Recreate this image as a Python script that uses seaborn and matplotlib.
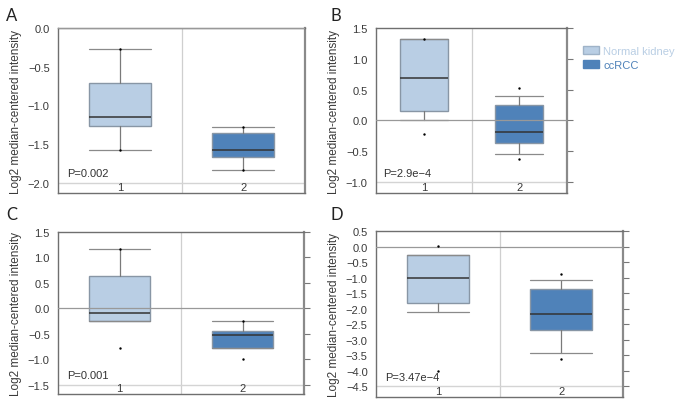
import numpy as np
import pandas as pd
import seaborn as sns
import matplotlib
matplotlib.use("Agg")
import matplotlib.pyplot as plt
from matplotlib.patches import Patch

# box stats: [group1, group2]
panels = ["A", "B", "C", "D"]
p_values = ["P=0.002", "P=2.9e\u22124", "P=0.001", "P=3.47e\u22124"]

whislo = [[-1.573, -1.836], [0.0, -0.543], [-0.249, -0.772], [-2.124, -3.42]]
q1 = [[-1.267, -1.672], [0.147, -0.364], [-0.249, -0.772], [-1.833, -2.675]]
med = [[-1.151, -1.582], [0.69, -0.196], [-0.091, -0.524], [-1.0, -2.19]]
q3 = [[-0.711, -1.358], [1.315, 0.245], [0.636, -0.445], [-0.288, -1.357]]
whishi = [[-0.276, -1.28], [1.315, 0.391], [1.16, -0.242], [-0.288, -1.087]]
dot_min = [[-1.573, -1.836], [-0.217, -0.625], [-0.766, -0.995], [-4.02, -3.636]]
dot_max = [[-0.276, -1.28], [1.326, 0.522], [1.16, -0.242], [0.025, -0.871]]

ylims = [(-2.134, 0.0), (-1.18, 1.5), (-1.677, 1.5), (-4.85, 0.5)]
yticks = [np.arange(-2.0, 0.01, 0.5), np.arange(-1.0, 1.51, 0.5),
          np.arange(-1.5, 1.51, 0.5), np.arange(-4.5, 0.51, 0.5)]

groups = ["1", "2"]
legend_labels = ["Normal kidney", "ccRCC"]
colors = ["#b9cee4", "#4f82b9"]

sns.set_style("white")
plt.rcParams["font.family"] = ["Liberation Sans", "DejaVu Sans"]

fig = plt.figure(figsize=(6.82, 4.02), dpi=100)
W, H = 682, 402
boxes_px = [(58, 29, 305, 194), (376, 29, 567, 194), (58, 233, 304, 395), (376, 232, 623, 398)]
letters_px = [(6, 16), (330, 16), (6, 215), (330, 215)]

for i, name in enumerate(panels):
    l, t, r, b = boxes_px[i]
    ax = fig.add_axes([l / W, 1 - b / H, (r - l) / W, (b - t) / H])
    stats = []
    for g in range(2):
        stats.append(dict(whislo=whislo[i][g], q1=q1[i][g], med=med[i][g],
                          q3=q3[i][g], whishi=whishi[i][g], fliers=[]))
    ax.axvline(1.5, color="#cfcfcf", lw=0.9, zorder=0)
    ax.axhline(yticks[i][0], color="#d4d4d4", lw=1.0, zorder=0)
    bp = ax.bxp(stats, positions=[1, 2], widths=0.5, capwidths=0.5,
                showfliers=False, patch_artist=True,
                boxprops=dict(edgecolor="#8896a5", linewidth=1.0),
                whiskerprops=dict(color="#7a7a7a", linewidth=0.9),
                capprops=dict(color="#8a8a8a", linewidth=0.9),
                medianprops=dict(color="#333333", linewidth=1.1))
    for patch, c in zip(bp["boxes"], colors):
        patch.set_facecolor(c)
    ax.axhline(0, color="#999999", lw=0.9, zorder=3)
    dots = pd.DataFrame({"x": [1, 2, 1, 2],
                         "y": dot_min[i] + dot_max[i]})
    sns.scatterplot(data=dots, x="x", y="y", ax=ax, color="black", s=3,
                    linewidth=0, zorder=4, legend=False)
    ax.set_xlim(0.5, 2.5)
    ax.set_ylim(*ylims[i])
    ax.set_yticks(yticks[i])
    ax.set_yticklabels([f"{v:.1f}".replace("-", "\u2212") for v in yticks[i]])
    ax.set_xticks([1, 2])
    ax.set_xticklabels(groups)
    ax.set_xlabel("")
    ax.set_ylabel("Log2 median-centered intensity", fontsize=8.5, color="#3a3a3a", labelpad=4)
    ax.tick_params(axis="x", length=0, pad=-8, labelsize=8, labelcolor="#3a3a3a")
    ax.tick_params(axis="y", length=4, width=0.8, color="#777777", labelsize=8,
                   labelcolor="#3a3a3a", pad=2, right=(i > 0))
    for s in ax.spines.values():
        s.set_color("#6f6f6f")
        s.set_linewidth(1.0)
    ax.spines["right"].set_linewidth(1.6)
    ax.spines["right"].set_color("#8a8a8a")
    ax.text(0.036, 0.1, p_values[i], transform=ax.transAxes, fontsize=8, color="#333333")
    fig.text(letters_px[i][0] / W, 1 - letters_px[i][1] / H, name, fontsize=12,
             color="#222222", va="center", family=["Lato", "DejaVu Sans"])

handles = [Patch(facecolor=colors[0], edgecolor="#9fb3c8"),
           Patch(facecolor=colors[1], edgecolor="#4f82b9")]
leg = fig.legend(handles, legend_labels, loc="upper left", bbox_to_anchor=(573 / W, 1 - 37 / H),
                 frameon=False, fontsize=8, handlelength=1.4, handleheight=0.7,
                 handletextpad=0.4, labelspacing=0.35)
for txt, c in zip(leg.get_texts(), colors):
    txt.set_color(c)

fig.savefig("out.png", dpi=100)
